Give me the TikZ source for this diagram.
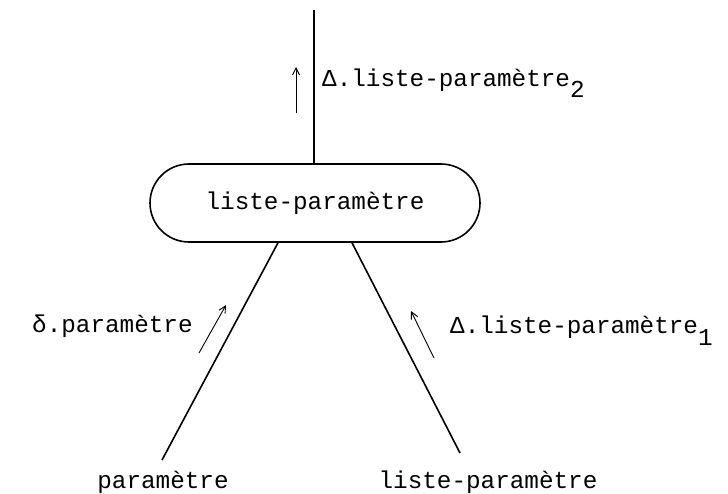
\documentclass[tikz,border=0pt]{standalone}
\usepackage{fontspec}
\setmonofont{Liberation Mono}
\usetikzlibrary{shapes.misc,arrows.meta}
\begin{document}
\begin{tikzpicture}[x=1pt,y=-1pt,
  every node/.style={font=\ttfamily\fontsize{24.3}{28}\selectfont, inner sep=0pt},
  mainline/.style={line width=1.6pt},
  flow/.style={line width=0.9pt, -{Straight Barb[length=7pt,width=7pt]}},
  pill/.style={draw, line width=1.6pt, rounded rectangle, minimum width=330pt, minimum height=78pt}]
\useasboundingbox (0,0) rectangle (728,494);
\node[pill] (box) at (315,203) {liste-paramètre};
\node (lp) at (163,482) {paramètre};
\node (rp) at (488,482) {liste-paramètre};
\coordinate (top) at (314,10);
\coordinate (lend) at (162,460);
\coordinate (rend) at (460,453);
\draw[mainline] (top) -- (top |- box.north);
\draw[mainline] ([xshift=-37pt]box.south) -- (lend);
\draw[mainline] ([xshift=37pt]box.south) -- (rend);
% flow arrows
\coordinate (ta1) at (296,113);
\coordinate (ta2) at (296,67);
\coordinate (la1) at (199,353);
\coordinate (la2) at (226,305);
\coordinate (ra1) at (434,358);
\coordinate (ra2) at (411,311);
\draw[flow] (ta1) -- (ta2);
\draw[flow] (la1) -- (la2);
\draw[flow] (ra1) -- (ra2);
% labels
\node[anchor=base west] (tl) at (322,87) {Δ.liste-paramètre\raisebox{-11pt}{2}};
\node[anchor=base west] (ll) at (32,332) {δ.paramètre};
\node[anchor=base west] (rl) at (450,334) {Δ.liste-paramètre\raisebox{-11pt}{1}};
\end{tikzpicture}
\end{document}
